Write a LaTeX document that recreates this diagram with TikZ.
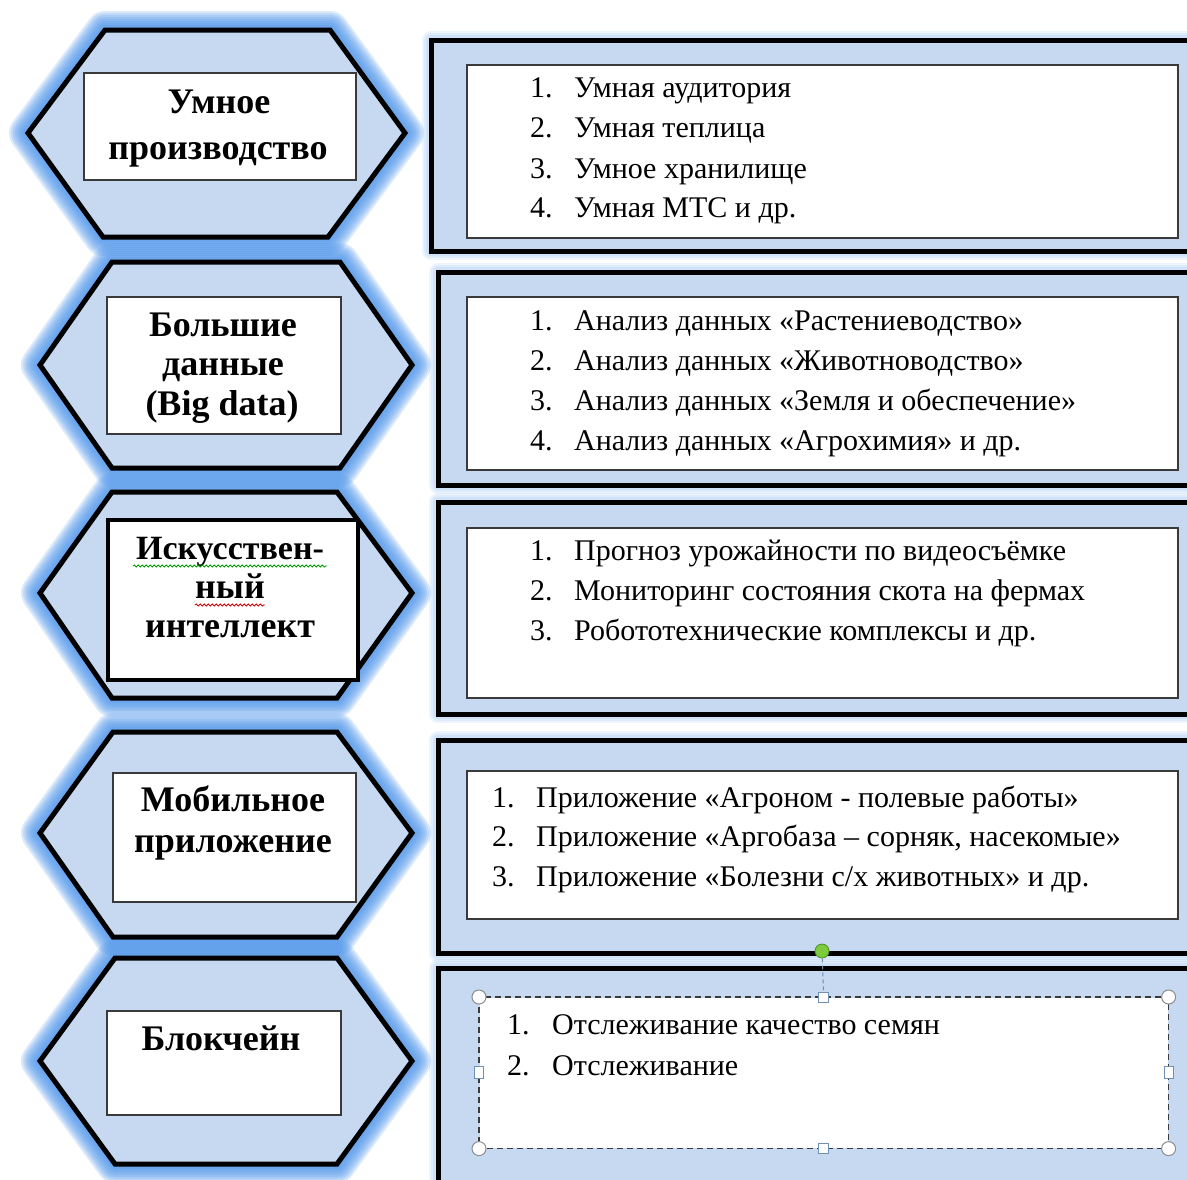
\documentclass[tikz,border=0pt]{standalone}
\usepackage{fontspec}
\setmainfont{Liberation Serif}
\usetikzlibrary{decorations.pathmorphing}
\definecolor{hexfill}{HTML}{C6D9F0}
\definecolor{glowcol}{HTML}{4F95EA}
\definecolor{boxline}{HTML}{3A3A3A}
\definecolor{handleline}{HTML}{8C8C8C}
\definecolor{handleblue}{HTML}{6F8FB5}
\definecolor{rotgreen}{HTML}{7CCB3C}
\definecolor{rotgreenline}{HTML}{4D8F22}
\tikzset{
  glowlayer/.style={draw=glowcol,line width=#1,line join=round,draw opacity=0.2},
  pglowlayer/.style={draw=glowcol,line width=#1,line join=round,draw opacity=0.10},
  hexshape/.style={fill=hexfill,draw=black,line width=5pt,line join=miter},
  panel/.style={fill=hexfill,draw=black,line width=5pt},
  whitebox/.style={draw=boxline,fill=white,line width=1.6pt,inner sep=0pt,anchor=north west},
  lbl/.style={inner sep=0pt,anchor=base,font=\fontsize{36}{36}\selectfont\bfseries},
  num/.style={inner sep=0pt,anchor=base west,font=\fontsize{30}{30}\selectfont},
  itm/.style={inner sep=0pt,anchor=base west,font=\fontsize{30}{30}\selectfont},
  handlecirc/.style={circle,draw=handleline,fill=white,line width=1pt,minimum size=14pt,inner sep=0pt},
  handlesq/.style={rectangle,draw=handleblue,fill=white,line width=1pt,minimum size=10pt,inner sep=0pt},
}
\newcommand\glowit[1]{\foreach \w in {38,34,30,26,22,18,14,10} {\path[glowlayer=\w pt] #1;}}
\newcommand\pglowit[1]{\foreach \w in {18,14,10} {\path[pglowlayer=\w pt] #1;}}
\begin{document}
\begin{tikzpicture}[x=1pt,y=-1pt]
\useasboundingbox (0,0) rectangle (1187,1179);
\clip (0,0) rectangle (1187,1179);
% ---------- glows ----------
\glowit{(28,133) -- (105,30) -- (330,30) -- (405,133) -- (328,237) -- (103,237) -- cycle}
\glowit{(40,365) -- (112,262) -- (340,262) -- (412,365) -- (340,468) -- (112,468) -- cycle}
\glowit{(40,593) -- (112,492) -- (337,492) -- (412,593) -- (337,698) -- (112,698) -- cycle}
\glowit{(40,833) -- (113,732) -- (337,732) -- (412,833) -- (337,937) -- (113,937) -- cycle}
\glowit{(40,1061) -- (115,958) -- (337,958) -- (412,1061) -- (337,1164) -- (115,1164) -- cycle}
\pglowit{(431,40) rectangle (1220,251)}
\pglowit{(438,272) rectangle (1220,485)}
\pglowit{(438,502) rectangle (1220,714)}
\pglowit{(438,740) rectangle (1220,953)}
\pglowit{(438,968) rectangle (1220,1200)}
% ---------- hexagons ----------
\draw[hexshape] (28,133) -- (105,30) -- (330,30) -- (405,133) -- (328,237) -- (103,237) -- cycle;
\draw[hexshape] (40,365) -- (112,262) -- (340,262) -- (412,365) -- (340,468) -- (112,468) -- cycle;
\draw[hexshape] (40,593) -- (112,492) -- (337,492) -- (412,593) -- (337,698) -- (112,698) -- cycle;
\draw[hexshape] (40,833) -- (113,732) -- (337,732) -- (412,833) -- (337,937) -- (113,937) -- cycle;
\draw[hexshape] (40,1061) -- (115,958) -- (337,958) -- (412,1061) -- (337,1164) -- (115,1164) -- cycle;
% ---------- panels ----------
\draw[panel] (431,40) rectangle (1220,251);
\draw[panel] (438,272) rectangle (1220,485);
\draw[panel] (438,502) rectangle (1220,714);
\draw[panel] (438,740) rectangle (1220,953);
\draw[panel] (438,968) rectangle (1220,1200);
% ---------- hexagon label boxes ----------
\node[whitebox,minimum width=272pt,minimum height=107pt] (b1) at (83,72) {};
\node[whitebox,minimum width=234pt,minimum height=137pt] (b2) at (106,296) {};
\node[whitebox,draw=black,line width=4pt,minimum width=250pt,minimum height=160pt] (b3) at (106,518) {};
\node[whitebox,minimum width=243pt,minimum height=129pt] (b4) at (112,772) {};
\node[whitebox,minimum width=234pt,minimum height=104pt] (b5) at (106,1010) {};
\node[lbl] (l1a) at (219,113) {Умное};
\node[lbl] (l1b) at (218,159) {производство};
\node[lbl] (l2a) at (223,336) {Большие};
\node[lbl] (l2b) at (223,375) {данные};
\node[lbl] (l2c) at (222,415) {(Big data)};
\node[lbl,font=\fontsize{34}{34}\selectfont\bfseries] (l3a) at (230,559) {Искусствен-};
\node[lbl] (l3b) at (230,598) {ный};
\node[lbl] (l3c) at (230,637) {интеллект};
\node[lbl] (l4a) at (233,811) {Мобильное};
\node[lbl] (l4b) at (233,852) {приложение};
\node[lbl] (l5a) at (221,1050) {Блокчейн};
\draw[green!60!black,line width=0.8pt,decorate,decoration={snake,segment length=4pt,amplitude=1.1pt}] (133,566) -- (327,566);
\draw[red!80!black,line width=0.8pt,decorate,decoration={snake,segment length=4pt,amplitude=1.1pt}] (195,605) -- (265,605);
% ---------- panel content boxes ----------
\node[whitebox,minimum width=711pt,minimum height=173pt] (w1) at (466,64) {};
\node[whitebox,minimum width=711pt,minimum height=173pt] (w2) at (466,296) {};
\node[whitebox,minimum width=711pt,minimum height=170pt] (w3) at (466,527) {};
\node[whitebox,minimum width=711pt,minimum height=148pt] (w4) at (466,770) {};
\node[whitebox,draw=none,minimum width=688pt,minimum height=150pt] (w5) at (479,997) {};
\draw[boxline,line width=1.4pt,dash pattern=on 6pt off 4pt] (w5.north west) rectangle (w5.south east);
% panel 1
\node[num] (n11) at (530,97) {1.};  \node[itm] (t11) at (574,97) {Умная аудитория};
\node[num] (n12) at (530,137) {2.}; \node[itm] (t12) at (574,137) {Умная теплица};
\node[num] (n13) at (530,178) {3.}; \node[itm] (t13) at (574,178) {Умное хранилище};
\node[num] (n14) at (530,217) {4.}; \node[itm] (t14) at (574,217) {Умная МТС и др.};
% panel 2
\node[num] (n21) at (530,330) {1.}; \node[itm] (t21) at (574,330) {Анализ данных «Растениеводство»};
\node[num] (n22) at (530,370) {2.}; \node[itm] (t22) at (574,370) {Анализ данных «Животноводство»};
\node[num] (n23) at (530,410) {3.}; \node[itm] (t23) at (574,410) {Анализ данных «Земля и обеспечение»};
\node[num] (n24) at (530,450) {4.}; \node[itm] (t24) at (574,450) {Анализ данных «Агрохимия» и др.};
% panel 3
\node[num] (n31) at (530,560) {1.}; \node[itm] (t31) at (574,560) {Прогноз урожайности по видеосъёмке};
\node[num] (n32) at (530,600) {2.}; \node[itm] (t32) at (574,600) {Мониторинг состояния скота на фермах};
\node[num] (n33) at (530,640) {3.}; \node[itm] (t33) at (574,640) {Робототехнические комплексы и др.};
% panel 4
\node[num] (n41) at (492,807) {1.}; \node[itm] (t41) at (536,807) {Приложение «Агроном - полевые работы»};
\node[num] (n42) at (492,846) {2.}; \node[itm] (t42) at (536,846) {Приложение «Аргобаза – сорняк, насекомые»};
\node[num] (n43) at (492,886) {3.}; \node[itm] (t43) at (536,886) {Приложение «Болезни с/х  животных» и др.};
% panel 5
\node[num] (n51) at (507,1034) {1.}; \node[itm] (t51) at (552,1034) {Отслеживание качество семян};
\node[num] (n52) at (507,1075) {2.}; \node[itm] (t52) at (552,1075) {Отслеживание};
% ---------- selection handles ----------
\node[circle,fill=rotgreen,draw=rotgreenline,line width=0.8pt,minimum size=14pt,inner sep=0pt] (rot) at (822,951) {};
\node[handlesq] (hn) at (w5.north) {};
\node[handlesq] (hs) at (w5.south) {};
\node[handlesq,minimum width=9pt,minimum height=12pt] (hw) at (w5.west) {};
\node[handlesq,minimum width=9pt,minimum height=12pt] (he) at (w5.east) {};
\node[handlecirc] (hnw) at (w5.north west) {};
\node[handlecirc] (hne) at (w5.north east) {};
\node[handlecirc] (hsw) at (w5.south west) {};
\node[handlecirc] (hse) at (w5.south east) {};
\draw[handleblue,line width=1pt,dash pattern=on 4pt off 3pt] (rot) -- (hn);
\end{tikzpicture}
\end{document}
